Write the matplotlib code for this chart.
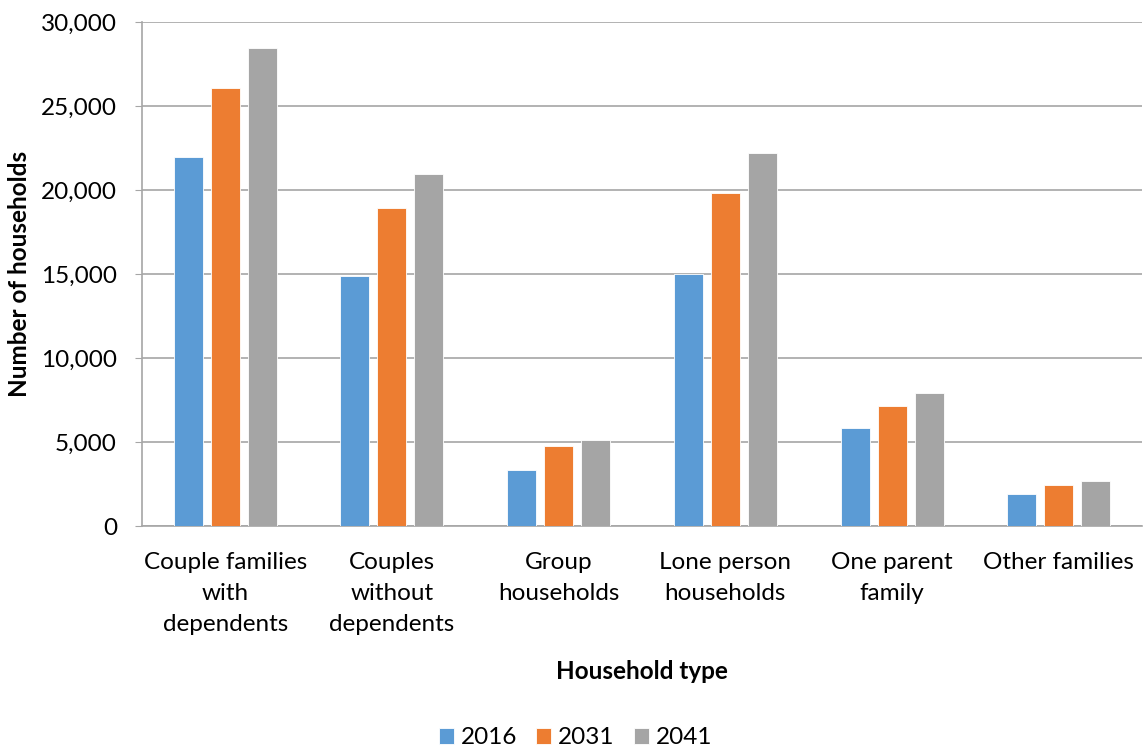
import matplotlib
matplotlib.use("Agg")
import matplotlib.pyplot as plt
import numpy as np

categories = ["Couple families\nwith\ndependents", "Couples\nwithout\ndependents",
              "Group\nhouseholds", "Lone person\nhouseholds", "One parent\nfamily",
              "Other families"]
years = ["2016", "2031", "2041"]
v2016 = [21940, 14880, 3350, 15000, 5830, 1900]
v2031 = [26100, 18930, 4740, 19800, 7120, 2460]
v2041 = [28460, 20950, 5100, 22200, 7890, 2680]
colors = ["#5B9BD5", "#ED7D31", "#A5A5A5"]

plt.rcParams["font.family"] = ["Lato", "DejaVu Sans"]

fig = plt.figure(figsize=(11.43, 7.49), dpi=100)
ax = fig.add_axes([0.1242, 0.2977, 0.8750, 0.6729])

x = np.arange(len(categories))
width = 0.174
step = 0.222
for i, (vals, name) in enumerate(zip([v2016, v2031, v2041], years)):
    ax.bar(x + (i - 1) * step, vals, width, color=colors[i], label=name,
           edgecolor="white", linewidth=0.6, zorder=3)

ax.set_xlim(-0.5, len(categories) - 0.5)
ax.set_ylim(0, 30000)
ax.set_yticks(range(0, 30001, 5000))
ax.set_yticklabels([f"{v:,}" for v in range(0, 30001, 5000)])
ax.set_xticks(x)
ax.set_xticklabels(categories, linespacing=1.57)
ax.tick_params(axis="x", length=0, pad=19, labelsize=17.5)
ax.tick_params(axis="y", length=5, color="#a6a6a6", pad=13, labelsize=17.5)
ax.grid(axis="y", color="#a6a6a6", linewidth=1.2, zorder=0)

for s in ["top", "right"]:
    ax.spines[s].set_visible(False)
for s in ["left", "bottom"]:
    ax.spines[s].set_color("#a6a6a6")
    ax.spines[s].set_linewidth(1.2)

ax.set_ylabel("Number of households", fontsize=17.5, fontweight="bold", labelpad=7)
ax.set_xlabel("Household type", fontsize=17.5, fontweight="bold", labelpad=18)

fig.legend(*ax.get_legend_handles_labels(), loc="center", bbox_to_anchor=(0.5035, 0.0147),
           ncol=3, frameon=False, fontsize=17.5, handlelength=0.62, handleheight=0.62,
           handletextpad=0.28, columnspacing=0.8)

fig.savefig("out.png", dpi=100)
